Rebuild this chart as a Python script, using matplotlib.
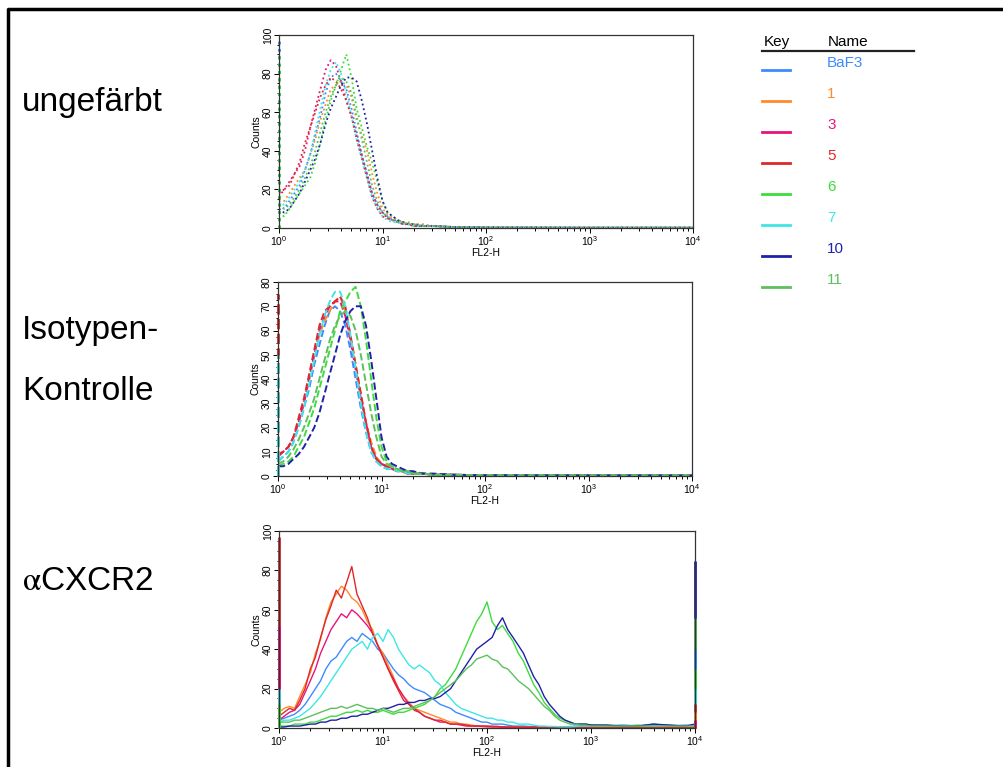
import matplotlib.pyplot as plt
from matplotlib.ticker import MultipleLocator, LogLocator, NullFormatter

plt.rcParams['font.family'] = ['Liberation Sans', 'DejaVu Sans']
plt.rcParams['mathtext.fontset'] = 'stix'

# sample names and colours (legend order)
names = ['BaF3', '1', '3', '5', '6', '7', '10', '11']
colors = ['#3d8bff', '#ff8a2a', '#e8147c', '#e02828', '#3ddc3d', '#3ee6e6', '#2020a8', '#5cc05c']

# FL2-H channel values for the two control panels
fl2_ctrl = [1.0, 1.12, 1.26, 1.41, 1.58, 1.78, 2.0, 2.24, 2.51, 2.82, 3.16, 3.55, 3.98, 4.47,
            5.01, 5.62, 6.31, 7.08, 7.94, 8.91, 10, 11.2, 12.6, 14.1, 15.8, 17.8, 20, 25.1,
            31.6, 50.1, 100, 1000, 10000]

# ungefaerbt (unstained) counts
unst_baf3 = [12, 10, 14, 18, 22, 30, 38, 48, 58, 70, 78, 80, 76, 72, 62, 50, 38, 28, 18, 12, 8, 6, 4, 4, 3, 2, 2, 1, 1, 0.5, 0.3, 0.2, 0.2]
unst_1 = [15, 14, 18, 22, 26, 30, 38, 46, 56, 64, 72, 74, 76, 74, 68, 56, 48, 40, 28, 18, 10, 7, 5, 4, 3, 3, 2, 2, 1, 0.5, 0.3, 0.2, 0.2]
unst_3 = [18, 20, 24, 28, 32, 40, 52, 62, 72, 82, 87, 84, 76, 66, 58, 48, 38, 28, 18, 12, 8, 5, 4, 3, 2, 2, 1, 1, 1, 0.5, 0.3, 0.2, 0.2]
unst_5 = [16, 20, 22, 28, 34, 44, 52, 60, 68, 74, 78, 76, 72, 66, 58, 46, 36, 26, 16, 10, 6, 5, 4, 3, 2, 2, 1, 1, 1, 0.5, 0.3, 0.2, 0.2]
unst_6 = [8, 6, 10, 14, 18, 22, 26, 34, 44, 56, 66, 74, 82, 90, 78, 62, 52, 42, 34, 24, 14, 8, 6, 4, 3, 2, 2, 1, 1, 0.5, 0.3, 0.2, 0.2]
unst_7 = [14, 12, 16, 20, 24, 30, 38, 50, 62, 74, 82, 86, 80, 70, 58, 46, 36, 26, 16, 10, 6, 4, 3, 3, 2, 2, 1, 1, 1, 0.5, 0.3, 0.2, 0.2]
unst_10 = [10, 8, 10, 14, 18, 24, 30, 36, 44, 54, 62, 68, 74, 78, 78, 76, 66, 54, 40, 26, 14, 8, 6, 4, 3, 2, 2, 1, 1, 0.5, 0.3, 0.2, 0.2]
unst_11 = [12, 10, 12, 16, 20, 26, 32, 40, 50, 60, 68, 74, 78, 76, 70, 58, 46, 34, 22, 14, 8, 6, 4, 3, 3, 2, 2, 1, 1, 0.5, 0.3, 0.2, 0.2]
unst_first = [98, 0, 0, 0, 90, 0, 0, 0]

# Isotypen-Kontrolle counts
iso_baf3 = [6, 8, 10, 14, 20, 28, 36, 46, 54, 62, 68, 70, 68, 62, 52, 40, 28, 18, 10, 6, 4, 3, 3, 2, 2, 1, 1, 1, 0.5, 0.5, 0.3, 0.2, 0.2]
iso_1 = [8, 10, 12, 16, 22, 30, 40, 50, 58, 64, 68, 72, 74, 68, 58, 46, 34, 22, 14, 8, 5, 4, 3, 2, 2, 1, 1, 1, 0.5, 0.5, 0.3, 0.2, 0.2]
iso_3 = [8, 10, 12, 16, 22, 30, 40, 50, 60, 66, 70, 72, 72, 66, 56, 44, 32, 22, 12, 7, 5, 4, 3, 2, 2, 1, 1, 1, 0.5, 0.5, 0.3, 0.2, 0.2]
iso_5 = [9, 10, 12, 16, 24, 32, 42, 52, 62, 68, 70, 72, 74, 70, 58, 46, 34, 22, 12, 7, 5, 4, 3, 2, 2, 1, 1, 1, 0.5, 0.5, 0.3, 0.2, 0.2]
iso_6 = [4, 5, 6, 8, 12, 16, 22, 28, 36, 44, 52, 60, 68, 72, 76, 78, 70, 56, 40, 24, 12, 6, 4, 3, 2, 2, 1, 1, 0.5, 0.5, 0.3, 0.2, 0.2]
iso_7 = [6, 8, 10, 14, 20, 28, 38, 48, 58, 66, 72, 76, 76, 70, 58, 44, 30, 18, 10, 6, 4, 3, 3, 2, 2, 1, 1, 1, 0.5, 0.5, 0.3, 0.2, 0.2]
iso_10 = [4, 4, 5, 7, 9, 12, 16, 20, 26, 34, 42, 50, 58, 64, 68, 70, 70, 62, 48, 32, 16, 8, 5, 4, 3, 2, 2, 1, 1, 0.5, 0.3, 0.2, 0.2]
iso_11 = [5, 6, 8, 11, 15, 20, 26, 32, 40, 48, 56, 62, 66, 68, 66, 60, 50, 38, 26, 16, 8, 5, 4, 3, 2, 2, 1, 1, 0.5, 0.5, 0.3, 0.2, 0.2]
iso_first = [0, 0, 0, 75, 0, 50, 0, 0]

# FL2-H channel values for the anti-CXCR2 panel
fl2_cx = [1.0, 1.12, 1.26, 1.41, 1.58, 1.78, 2.0, 2.24, 2.51, 2.82, 3.16, 3.55, 3.98, 4.47, 5.01,
          5.62, 6.31, 7.08, 7.94, 8.91, 10, 11.2, 12.6, 14.1, 15.8, 17.8, 20, 22.4, 25.1, 28.2,
          31.6, 35.5, 39.8, 44.7, 50.1, 56.2, 63.1, 70.8, 79.4, 89.1, 100, 112, 126, 141, 158,
          178, 200, 224, 251, 282, 316, 355, 398, 447, 501, 562, 631, 708, 794, 891, 1000,
          1410, 2000, 2820, 4000, 5620, 8000, 10000]

cx_baf3 = [4, 5, 6, 7, 9, 12, 16, 20, 24, 30, 34, 36, 40, 44, 46, 44, 48, 46, 44, 40, 38, 34, 30, 27,
           25, 22, 20, 19, 18, 16, 14, 12, 11, 10, 8, 7, 6, 5, 4, 3, 3, 2, 2, 2, 1.5, 1, 1, 1, 0.8,
           0.8, 0.6, 0.6, 0.5, 0.5, 0.5, 0.6, 0.8, 1, 1.2, 1, 1.5, 1, 1.5, 1, 2, 1, 1.5, 1]
cx_1 = [8, 10, 11, 10, 16, 22, 28, 38, 45, 56, 64, 68, 72, 70, 66, 64, 60, 54, 50, 42, 38, 32, 26, 20,
        16, 13, 10, 9, 8, 7, 6, 5, 4, 3, 3, 2, 2, 1.5, 1, 1, 1, 1, 0.8, 0.6, 0.5, 0.5, 0.5, 0.4,
        0.4, 0.4, 0.4, 0.4, 0.4, 0.4, 0.4, 0.4, 0.4, 0.4, 0.4, 0.4, 0.4, 0.3, 0.3, 0.3, 0.3, 0.3, 0.3, 0.3]
cx_3 = [4, 6, 8, 9, 12, 18, 24, 30, 38, 44, 50, 54, 58, 56, 60, 58, 55, 52, 48, 42, 36, 30, 25, 20,
        16, 12, 10, 8, 6, 5, 4, 3, 3, 2, 2, 1.5, 1, 1, 1, 0.8, 0.6, 0.5, 0.5, 0.4, 0.4, 0.4, 0.4,
        0.4, 0.4, 0.4, 0.4, 0.4, 0.4, 0.4, 0.4, 0.4, 0.4, 0.4, 0.4, 0.4, 0.4, 0.3, 0.3, 0.3, 0.3, 0.3, 0.3, 0.3]
cx_5 = [6, 8, 10, 9, 14, 20, 30, 36, 46, 55, 62, 70, 66, 74, 82, 68, 62, 56, 48, 42, 36, 30, 24, 19,
        14, 12, 9, 8, 6, 5, 4, 4, 3, 2, 2, 2, 1.5, 1, 1, 1, 1, 0.8, 0.8, 0.6, 0.5, 0.5, 0.4, 0.4,
        0.4, 0.4, 0.4, 0.4, 0.4, 0.4, 0.4, 0.4, 0.4, 0.4, 0.4, 0.4, 0.4, 0.3, 0.3, 0.3, 0.3, 0.3, 0.3, 0.3]
cx_6 = [1, 1, 1, 2, 2, 2, 3, 3, 4, 5, 6, 6, 7, 8, 8, 9, 8, 9, 8, 8, 9, 8, 7, 8, 8, 9, 10, 11, 12, 14,
        16, 20, 22, 26, 30, 36, 42, 48, 54, 58, 64, 54, 50, 52, 48, 44, 38, 34, 28, 22, 18, 13, 10,
        7, 5, 4, 3, 2, 2, 2, 1.5, 1.5, 1, 1.5, 1, 1.5, 1, 1]
cx_7 = [3, 4, 4, 5, 6, 8, 10, 13, 16, 20, 24, 28, 32, 36, 40, 42, 44, 40, 46, 48, 44, 50, 46, 40, 36,
        32, 30, 32, 30, 28, 24, 22, 18, 15, 12, 10, 9, 8, 7, 6, 5, 5, 4, 4, 3, 3, 2, 2, 2, 1.5, 1,
        1, 0.8, 0.8, 0.6, 0.6, 0.6, 0.8, 1, 1, 1, 1, 1.5, 1, 1, 1.5, 1, 1]
cx_10 = [0.5, 0.5, 1, 1, 1, 1.5, 2, 2, 3, 3, 4, 4, 5, 5, 6, 6, 7, 7, 8, 9, 10, 10, 11, 12, 12, 13, 13,
         14, 14, 15, 15, 16, 18, 20, 24, 28, 32, 36, 40, 42, 44, 46, 52, 56, 50, 46, 42, 38, 32, 26,
         22, 16, 12, 9, 6, 4, 3, 2, 2, 2, 1.5, 1.5, 1, 1, 2, 1.5, 1, 2]
cx_11 = [3, 3, 3, 4, 4, 5, 6, 7, 8, 9, 10, 10, 11, 10, 11, 12, 11, 10, 10, 9, 10, 9, 8, 9, 10, 10, 11,
         12, 13, 14, 16, 18, 20, 22, 24, 27, 30, 32, 35, 36, 37, 35, 34, 31, 30, 27, 24, 22, 20, 17,
         14, 11, 9, 6, 4, 3, 2, 2, 1.5, 1.5, 1, 1, 1, 1, 1, 1, 1, 1]
cx_first = [0, 0, 52, 97, 10, 20, 0, 12]
cx_last = [40, 8, 4, 12, 30, 20, 85, 56]

unst = [unst_baf3, unst_1, unst_3, unst_5, unst_6, unst_7, unst_10, unst_11]
iso = [iso_baf3, iso_1, iso_3, iso_5, iso_6, iso_7, iso_10, iso_11]
cxcr2 = [cx_baf3, cx_1, cx_3, cx_5, cx_6, cx_7, cx_10, cx_11]


def draw_panel(ax, x, curves, ls, lw, ymax, ystep, first=None, last=None):
    for ys, c in zip(curves, colors):
        ax.plot(x, ys, color=c, linestyle=ls, lw=lw)
    # first/last channel (off-scale) counts drawn as spikes on the axis edges
    for edge, xv in ((first, x[0]), (last, x[-1])):
        if edge is None:
            continue
        order = sorted(range(len(edge)), key=lambda i: -edge[i])
        for i in order:
            if edge[i] > 0:
                ax.vlines(xv, 0, edge[i], color=colors[i], lw=2, linestyle=ls, clip_on=False)
    ax.set_xscale('log')
    ax.set_xlim(1, 10000)
    ax.set_ylim(0, ymax)
    ax.yaxis.set_major_locator(MultipleLocator(ystep))
    ax.yaxis.set_minor_locator(MultipleLocator(ystep / 4))
    ax.xaxis.set_major_locator(LogLocator(base=10))
    ax.xaxis.set_minor_locator(LogLocator(base=10, subs=range(2, 10)))
    ax.xaxis.set_minor_formatter(NullFormatter())
    ax.tick_params(which='both', direction='out', labelsize=7.5, width=0.7, pad=1)
    ax.tick_params(which='major', length=3.5)
    ax.tick_params(which='minor', length=1.8)
    for lbl in ax.get_yticklabels():
        lbl.set_rotation(90)
        lbl.set_va('center')
    for s in ax.spines.values():
        s.set_linewidth(0.9)
        s.set_color('#333333')
    ax.set_xlabel('FL2-H', fontsize=7.5, labelpad=0)
    ax.set_ylabel('Counts', fontsize=7.5, labelpad=1)


fig = plt.figure(figsize=(10.04, 7.67), dpi=100)

# overlay in pixel units for frame, row labels and key
ov = fig.add_axes([0, 0, 1, 1])
ov.set_xlim(0, 1004)
ov.set_ylim(767, 0)
ov.axis('off')
ov.plot([8, 8, 1004], [767, 9, 9], color='black', lw=2.5, solid_capstyle='butt')

ax1 = fig.add_axes([0.2779, 0.7027, 0.4124, 0.2516])
ax2 = fig.add_axes([0.2769, 0.3794, 0.4124, 0.2529])
ax3 = fig.add_axes([0.2779, 0.0508, 0.4143, 0.2568])

draw_panel(ax1, fl2_ctrl, unst, ':', 1.3, 100, 20, first=unst_first)
draw_panel(ax2, fl2_ctrl, iso, '--', 1.4, 80, 10, first=iso_first)
draw_panel(ax3, fl2_cx, cxcr2, '-', 1.0, 100, 20, first=cx_first, last=cx_last)

# row labels
ov.text(22, 102, 'ungefärbt', fontsize=24, va='center', ha='left')
ov.text(22, 330, 'Isotypen-', fontsize=24, va='center', ha='left')
ov.text(22, 392, 'Kontrolle', fontsize=24, va='center', ha='left')
ov.text(22, 582, r'$\mathrm{\alpha}$CXCR2', fontsize=24, va='center', ha='left')

# key
ov.text(764, 42, 'Key', fontsize=11, va='center', ha='left')
ov.text(828, 42, 'Name', fontsize=11, va='center', ha='left')
ov.plot([762, 914], [51, 51], color='#222222', lw=1.6)
for i, (n, c) in enumerate(zip(names, colors)):
    y = 70 + 31 * i
    ov.plot([762, 790], [y, y], color=c, lw=2)
    ov.text(827, y - 7, n, fontsize=11, color=c, va='center', ha='left')

fig.savefig('out.png', dpi=100)
